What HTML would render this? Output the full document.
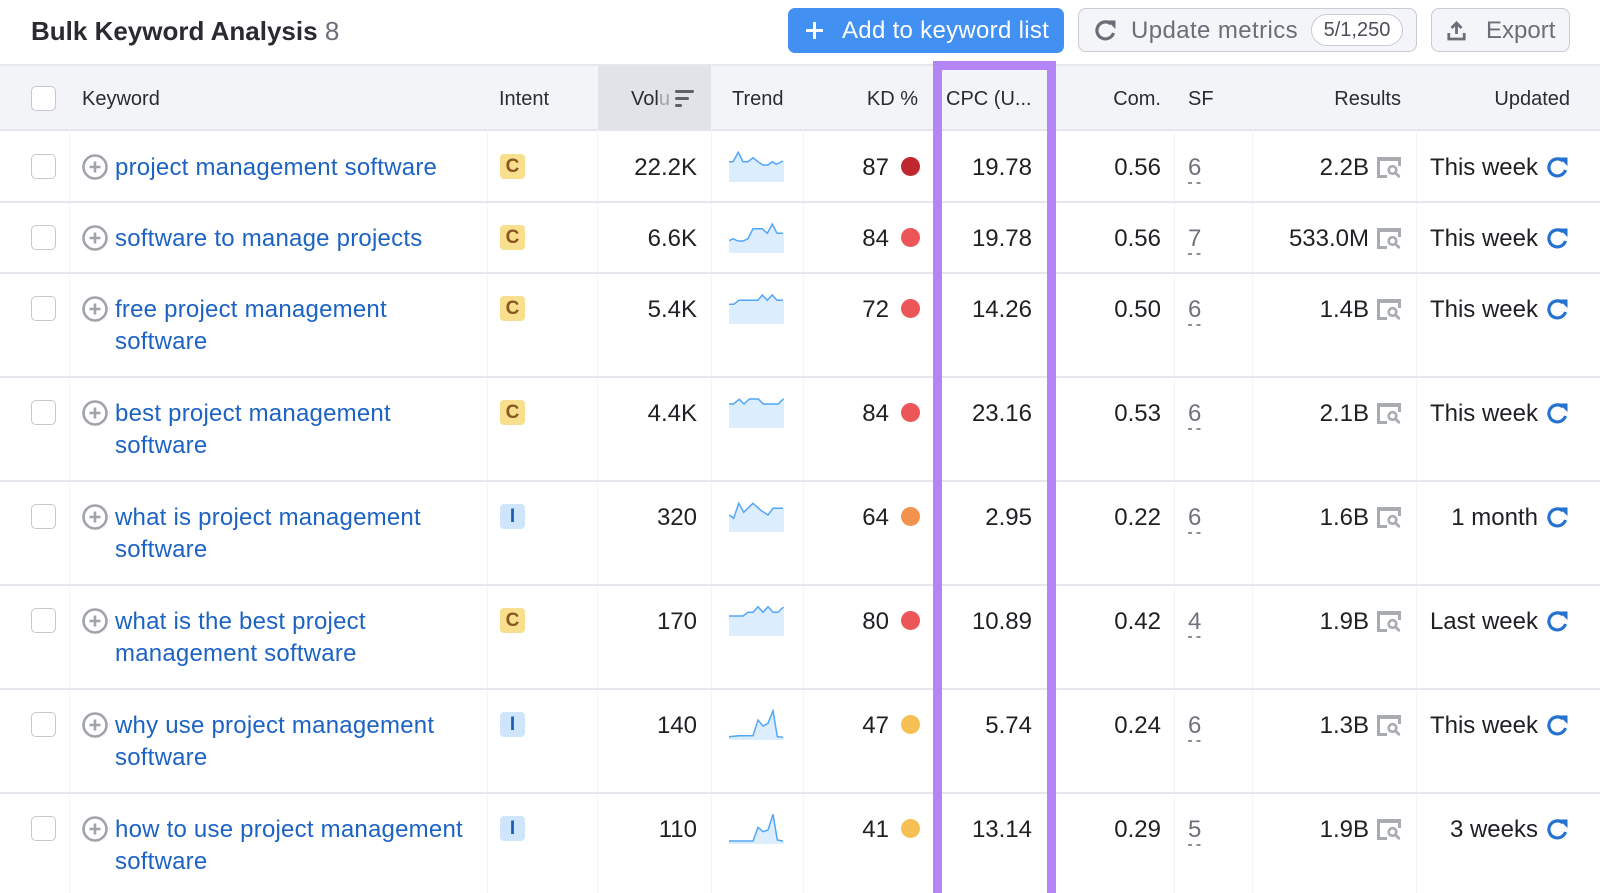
<!DOCTYPE html>
<html><head><meta charset="utf-8">
<style>
*{margin:0;padding:0;box-sizing:border-box}
html,body{width:1600px;height:893px;overflow:hidden;background:#fff}
#w{position:relative;width:1600px;height:893px;overflow:hidden;font-family:"Liberation Sans",Arial,sans-serif;color:#1f2024}
.a{position:absolute}
.t{position:absolute;font-size:24px;line-height:32px;white-space:nowrap;color:#1f2024}
.h{position:absolute;font-size:20px;line-height:32px;top:83px;white-space:nowrap;color:#2a2b33}
.row{position:absolute;left:0;width:1600px;height:0}
.ln{position:absolute;left:0;width:1600px;top:-1px;height:2px;background:#e6e7ed}
.cb{position:absolute;left:31px;width:25px;height:25px;border:1.5px solid #c5c8cf;border-radius:5px;background:#fff}
.kw{color:#1d63c4;left:115px;top:20.5px;letter-spacing:0.22px}
.bd{position:absolute;left:500px;top:23px;width:25px;height:25px;border-radius:4px;font-weight:bold;font-size:19px;line-height:25px;text-align:center}
.bc{background:#f8df8e;color:#8a561f}
.bi{background:#cfe5fb;color:#1d5cb6}
.dot{position:absolute;left:901px;top:26px;width:19px;height:19px;border-radius:50%}
.sf{left:1188px;top:20.5px;color:#6f727c}
.dash{position:absolute;left:1188px;top:51px;width:13px;height:1.5px;background:repeating-linear-gradient(90deg,#8d9099 0 4px,transparent 4px 8.5px)}
.vl{position:absolute;top:65px;height:828px;width:1px;background:#f4f4f7}
.btn{position:absolute;top:8px;height:44px;border-radius:8px}
.row .t:not(.kw):not(.sf){top:20.5px !important}
</style></head><body><div id="w">

<!-- title -->
<div class="a" style="left:31px;top:13px;font-size:26px;line-height:36px;white-space:nowrap;color:#2a2b30"><b>Bulk Keyword Analysis</b> <span style="color:#6c6e79">8</span></div>

<!-- buttons -->
<div class="btn" style="left:788px;width:276px;height:45px;background:#4190f2;border-radius:7px"></div>
<svg class="a" style="left:806px;top:22px" width="17" height="17" viewBox="0 0 17 17"><path d="M8.5 1v15M1 8.5h15" stroke="#fff" stroke-width="3" stroke-linecap="round"/></svg>
<div class="a" style="left:842px;top:15px;font-size:24px;line-height:32px;color:#fff;white-space:nowrap;letter-spacing:0.3px">Add to keyword list</div>

<div class="btn" style="left:1078px;width:339px;background:#f4f5f8;border:1.5px solid #c8cbd2"></div>
<svg class="a" style="left:1094px;top:19px" width="23" height="22" viewBox="0 0 23 22"><path d="M19.5 14A8.5 8.5 0 1 1 17 5" fill="none" stroke="#6b6e78" stroke-width="3.2"/><path d="M13 1.5h8.5V10z" fill="#6b6e78"/></svg>
<div class="a" style="left:1131px;top:15px;font-size:24px;line-height:32px;color:#6b6e78;white-space:nowrap;letter-spacing:0.4px">Update metrics</div>
<div class="a" style="left:1311px;top:14px;width:92px;height:32px;border:1.5px solid #c8cbd2;border-radius:16px;background:#fff;font-size:20px;line-height:30px;text-align:center;color:#4d4f57">5/1,250</div>

<div class="btn" style="left:1431px;width:139px;background:#f4f5f8;border:1.5px solid #c8cbd2"></div>
<svg class="a" style="left:1447px;top:20px" width="19" height="21" viewBox="0 0 19 21"><path d="M9.5 3v11M4.5 8l5-5 5 5" fill="none" stroke="#6b6e78" stroke-width="2.8"/><path d="M1.8 13v6h15.4v-6" fill="none" stroke="#6b6e78" stroke-width="2.8"/></svg>
<div class="a" style="left:1486px;top:15px;font-size:24px;line-height:32px;color:#6b6e78;white-space:nowrap">Export</div>

<!-- header -->
<div class="a" style="left:0;top:64px;width:1600px;height:2px;background:#e6e7ec"></div>
<div class="a" style="left:0;top:66px;width:1600px;height:64px;background:#f3f4f8"></div>
<div class="a" style="left:597px;top:66px;width:114px;height:64px;background:#e2e3e9"></div>
<div class="a" style="left:0;top:129px;width:1600px;height:2px;background:#e4e5eb"></div>

<div class="vl" style="left:69px"></div>
<div class="vl" style="left:487px"></div>
<div class="vl" style="left:597px"></div>
<div class="vl" style="left:711px"></div>
<div class="vl" style="left:803px"></div>
<div class="vl" style="left:1174px"></div>
<div class="vl" style="left:1252px"></div>
<div class="vl" style="left:1416px"></div>

<div class="cb" style="top:86px"></div>
<div class="h" style="left:82px">Keyword</div>
<div class="h" style="left:499px">Intent</div>
<div class="h" style="left:631px">Vol<span style="color:#a2a4ab">u</span></div>
<div class="a" style="left:675px;top:90px;width:19px;height:3px;border-radius:2px;background:#5f6169"></div>
<div class="a" style="left:675px;top:97px;width:14px;height:3px;border-radius:2px;background:#5f6169"></div>
<div class="a" style="left:675px;top:104px;width:7px;height:3px;border-radius:2px;background:#5f6169"></div>
<div class="h" style="left:732px">Trend</div>
<div class="h" style="right:682px">KD %</div>
<div class="h" style="left:946px">CPC (U...</div>
<div class="h" style="right:439px">Com.</div>
<div class="h" style="left:1188px">SF</div>
<div class="h" style="right:199px">Results</div>
<div class="h" style="right:30px">Updated</div>

<!-- ROW 1 -->
<div class="row" style="top:131px">
<div class="cb" style="top:23px"></div>
<svg class="a" style="left:82px;top:23px" width="26" height="26" viewBox="0 0 26 26"><circle cx="13" cy="13" r="11.5" fill="none" stroke="#a0a3ab" stroke-width="2.6"/><path d="M13 7.5v11M7.5 13h11" stroke="#a0a3ab" stroke-width="2.6"/></svg>
<div class="t kw">project management software</div>
<div class="bd bc">C</div>
<div class="t" style="right:903px">22.2K</div>
<svg class="a" style="left:729px;top:20px" width="55" height="31" viewBox="0 0 55 31"><polygon points="0,10.7 4,10.7 9.3,1.3 14,10.7 19,10.7 24,6.7 29,10.7 34,14 39,14 43.3,10.7 47.3,13.3 55,10 55,31 0,31" fill="#dcedfd"/><polyline points="0,10.7 4,10.7 9.3,1.3 14,10.7 19,10.7 24,6.7 29,10.7 34,14 39,14 43.3,10.7 47.3,13.3 54,10" fill="none" stroke="#52a6f8" stroke-width="1.5"/></svg>
<div class="t" style="right:711px">87</div>
<div class="dot" style="background:#c1272f"></div>
<div class="t" style="right:568px">19.78</div>
<div class="t" style="right:439px">0.56</div>
<div class="t sf">6</div><div class="dash"></div>
<div class="t" style="right:231px">2.2B</div>
<svg class="a" style="left:1377px;top:25.5px" width="24" height="21" viewBox="0 0 24 21"><path d="M1.5 20V2h21v7" fill="none" stroke="#a8acb1" stroke-width="3"/><rect x="0" y="0" width="24" height="4" fill="#a8acb1"/><path d="M0 19.5h10" stroke="#a8acb1" stroke-width="3"/><circle cx="15.5" cy="13" r="3.8" fill="none" stroke="#a8acb1" stroke-width="2.6"/><path d="M18.3 15.8l3.5 3.5" stroke="#a8acb1" stroke-width="2.8" stroke-linecap="round"/></svg>
<div class="t" style="right:62px">This week</div>
<svg class="a" style="left:1546px;top:25px" width="23" height="22" viewBox="0 0 23 22"><path d="M19.5 14A8.5 8.5 0 1 1 17 5" fill="none" stroke="#2571d1" stroke-width="3.2"/><path d="M13 1.5h8.5V10z" fill="#2571d1"/></svg>
</div>

<!-- ROW 2 -->
<div class="row" style="top:202px">
<div class="ln"></div>
<div class="cb" style="top:23px"></div>
<svg class="a" style="left:82px;top:23px" width="26" height="26" viewBox="0 0 26 26"><circle cx="13" cy="13" r="11.5" fill="none" stroke="#a0a3ab" stroke-width="2.6"/><path d="M13 7.5v11M7.5 13h11" stroke="#a0a3ab" stroke-width="2.6"/></svg>
<div class="t kw">software to manage projects</div>
<div class="bd bc">C</div>
<div class="t" style="right:903px">6.6K</div>
<svg class="a" style="left:729px;top:20px" width="55" height="31" viewBox="0 0 55 31"><polygon points="0,18.7 4,16.7 9,19 14,19 19,16.7 24,6.7 33.3,6.7 38.3,11.3 43.3,2 48,11.3 55,11.3 55,31 0,31" fill="#dcedfd"/><polyline points="0,18.7 4,16.7 9,19 14,19 19,16.7 24,6.7 33.3,6.7 38.3,11.3 43.3,2 48,11.3 54,11.3" fill="none" stroke="#52a6f8" stroke-width="1.5"/></svg>
<div class="t" style="right:711px">84</div>
<div class="dot" style="background:#ec5659"></div>
<div class="t" style="right:568px">19.78</div>
<div class="t" style="right:439px">0.56</div>
<div class="t sf">7</div><div class="dash"></div>
<div class="t" style="right:231px">533.0M</div>
<svg class="a" style="left:1377px;top:25.5px" width="24" height="21" viewBox="0 0 24 21"><path d="M1.5 20V2h21v7" fill="none" stroke="#a8acb1" stroke-width="3"/><rect x="0" y="0" width="24" height="4" fill="#a8acb1"/><path d="M0 19.5h10" stroke="#a8acb1" stroke-width="3"/><circle cx="15.5" cy="13" r="3.8" fill="none" stroke="#a8acb1" stroke-width="2.6"/><path d="M18.3 15.8l3.5 3.5" stroke="#a8acb1" stroke-width="2.8" stroke-linecap="round"/></svg>
<div class="t" style="right:62px">This week</div>
<svg class="a" style="left:1546px;top:25px" width="23" height="22" viewBox="0 0 23 22"><path d="M19.5 14A8.5 8.5 0 1 1 17 5" fill="none" stroke="#2571d1" stroke-width="3.2"/><path d="M13 1.5h8.5V10z" fill="#2571d1"/></svg>
</div>

<!-- ROW 3 -->
<div class="row" style="top:273px">
<div class="ln"></div>
<div class="cb" style="top:23px"></div>
<svg class="a" style="left:82px;top:23px" width="26" height="26" viewBox="0 0 26 26"><circle cx="13" cy="13" r="11.5" fill="none" stroke="#a0a3ab" stroke-width="2.6"/><path d="M13 7.5v11M7.5 13h11" stroke="#a0a3ab" stroke-width="2.6"/></svg>
<div class="t kw">free project management<br>software</div>
<div class="bd bc">C</div>
<div class="t" style="right:903px">5.4K</div>
<svg class="a" style="left:729px;top:20px" width="55" height="31" viewBox="0 0 55 31"><polygon points="0,11.3 4.7,11.3 10,7.3 29,7.3 33.3,2 38.3,7.3 43.3,2 48,7.3 55,7.3 55,31 0,31" fill="#dcedfd"/><polyline points="0,11.3 4.7,11.3 10,7.3 29,7.3 33.3,2 38.3,7.3 43.3,2 48,7.3 54,7.3" fill="none" stroke="#52a6f8" stroke-width="1.5"/></svg>
<div class="t" style="right:711px">72</div>
<div class="dot" style="background:#ec5659"></div>
<div class="t" style="right:568px">14.26</div>
<div class="t" style="right:439px">0.50</div>
<div class="t sf">6</div><div class="dash"></div>
<div class="t" style="right:231px">1.4B</div>
<svg class="a" style="left:1377px;top:25.5px" width="24" height="21" viewBox="0 0 24 21"><path d="M1.5 20V2h21v7" fill="none" stroke="#a8acb1" stroke-width="3"/><rect x="0" y="0" width="24" height="4" fill="#a8acb1"/><path d="M0 19.5h10" stroke="#a8acb1" stroke-width="3"/><circle cx="15.5" cy="13" r="3.8" fill="none" stroke="#a8acb1" stroke-width="2.6"/><path d="M18.3 15.8l3.5 3.5" stroke="#a8acb1" stroke-width="2.8" stroke-linecap="round"/></svg>
<div class="t" style="right:62px">This week</div>
<svg class="a" style="left:1546px;top:25px" width="23" height="22" viewBox="0 0 23 22"><path d="M19.5 14A8.5 8.5 0 1 1 17 5" fill="none" stroke="#2571d1" stroke-width="3.2"/><path d="M13 1.5h8.5V10z" fill="#2571d1"/></svg>
</div>

<!-- ROW 4 -->
<div class="row" style="top:377px">
<div class="ln"></div>
<div class="cb" style="top:23px"></div>
<svg class="a" style="left:82px;top:23px" width="26" height="26" viewBox="0 0 26 26"><circle cx="13" cy="13" r="11.5" fill="none" stroke="#a0a3ab" stroke-width="2.6"/><path d="M13 7.5v11M7.5 13h11" stroke="#a0a3ab" stroke-width="2.6"/></svg>
<div class="t kw">best project management<br>software</div>
<div class="bd bc">C</div>
<div class="t" style="right:903px">4.4K</div>
<svg class="a" style="left:729px;top:20px" width="55" height="31" viewBox="0 0 55 31"><polygon points="0,7 4.3,7 10.3,2.3 15,7 20.3,2 29.3,2 34.3,7 49.3,7 55,1.3 55,31 0,31" fill="#dcedfd"/><polyline points="0,7 4.3,7 10.3,2.3 15,7 20.3,2 29.3,2 34.3,7 49.3,7 54.5,1.8" fill="none" stroke="#52a6f8" stroke-width="1.5"/></svg>
<div class="t" style="right:711px">84</div>
<div class="dot" style="background:#ec5659"></div>
<div class="t" style="right:568px">23.16</div>
<div class="t" style="right:439px">0.53</div>
<div class="t sf">6</div><div class="dash"></div>
<div class="t" style="right:231px">2.1B</div>
<svg class="a" style="left:1377px;top:25.5px" width="24" height="21" viewBox="0 0 24 21"><path d="M1.5 20V2h21v7" fill="none" stroke="#a8acb1" stroke-width="3"/><rect x="0" y="0" width="24" height="4" fill="#a8acb1"/><path d="M0 19.5h10" stroke="#a8acb1" stroke-width="3"/><circle cx="15.5" cy="13" r="3.8" fill="none" stroke="#a8acb1" stroke-width="2.6"/><path d="M18.3 15.8l3.5 3.5" stroke="#a8acb1" stroke-width="2.8" stroke-linecap="round"/></svg>
<div class="t" style="right:62px">This week</div>
<svg class="a" style="left:1546px;top:25px" width="23" height="22" viewBox="0 0 23 22"><path d="M19.5 14A8.5 8.5 0 1 1 17 5" fill="none" stroke="#2571d1" stroke-width="3.2"/><path d="M13 1.5h8.5V10z" fill="#2571d1"/></svg>
</div>

<!-- ROW 5 -->
<div class="row" style="top:481px">
<div class="ln"></div>
<div class="cb" style="top:23px"></div>
<svg class="a" style="left:82px;top:23px" width="26" height="26" viewBox="0 0 26 26"><circle cx="13" cy="13" r="11.5" fill="none" stroke="#a0a3ab" stroke-width="2.6"/><path d="M13 7.5v11M7.5 13h11" stroke="#a0a3ab" stroke-width="2.6"/></svg>
<div class="t kw">what is project management<br>software</div>
<div class="bd bi">I</div>
<div class="t" style="right:903px">320</div>
<svg class="a" style="left:729px;top:20px" width="55" height="31" viewBox="0 0 55 31"><polygon points="0,14 4.7,17.3 9.7,2.3 14.7,11.3 24,2.3 32.3,9.7 39,14 44,7.3 55,7.3 55,31 0,31" fill="#dcedfd"/><polyline points="0,14 4.7,17.3 9.7,2.3 14.7,11.3 24,2.3 32.3,9.7 39,14 44,7.3 54,7.3" fill="none" stroke="#52a6f8" stroke-width="1.5"/></svg>
<div class="t" style="right:711px">64</div>
<div class="dot" style="background:#f1934f"></div>
<div class="t" style="right:568px">2.95</div>
<div class="t" style="right:439px">0.22</div>
<div class="t sf">6</div><div class="dash"></div>
<div class="t" style="right:231px">1.6B</div>
<svg class="a" style="left:1377px;top:25.5px" width="24" height="21" viewBox="0 0 24 21"><path d="M1.5 20V2h21v7" fill="none" stroke="#a8acb1" stroke-width="3"/><rect x="0" y="0" width="24" height="4" fill="#a8acb1"/><path d="M0 19.5h10" stroke="#a8acb1" stroke-width="3"/><circle cx="15.5" cy="13" r="3.8" fill="none" stroke="#a8acb1" stroke-width="2.6"/><path d="M18.3 15.8l3.5 3.5" stroke="#a8acb1" stroke-width="2.8" stroke-linecap="round"/></svg>
<div class="t" style="right:62px">1 month</div>
<svg class="a" style="left:1546px;top:25px" width="23" height="22" viewBox="0 0 23 22"><path d="M19.5 14A8.5 8.5 0 1 1 17 5" fill="none" stroke="#2571d1" stroke-width="3.2"/><path d="M13 1.5h8.5V10z" fill="#2571d1"/></svg>
</div>

<!-- ROW 6 -->
<div class="row" style="top:585px">
<div class="ln"></div>
<div class="cb" style="top:23px"></div>
<svg class="a" style="left:82px;top:23px" width="26" height="26" viewBox="0 0 26 26"><circle cx="13" cy="13" r="11.5" fill="none" stroke="#a0a3ab" stroke-width="2.6"/><path d="M13 7.5v11M7.5 13h11" stroke="#a0a3ab" stroke-width="2.6"/></svg>
<div class="t kw">what is the best project<br>management software</div>
<div class="bd bc">C</div>
<div class="t" style="right:903px">170</div>
<svg class="a" style="left:729px;top:20px" width="55" height="31" viewBox="0 0 55 31"><polygon points="0,11 14,11 19,7.3 24,7.3 29,1.7 34,7.3 39,1.7 44,7.3 49,7.3 55,1.7 55,31 0,31" fill="#dcedfd"/><polyline points="0,11 14,11 19,7.3 24,7.3 29,1.7 34,7.3 39,1.7 44,7.3 49,7.3 54.5,2" fill="none" stroke="#52a6f8" stroke-width="1.5"/></svg>
<div class="t" style="right:711px">80</div>
<div class="dot" style="background:#ec5659"></div>
<div class="t" style="right:568px">10.89</div>
<div class="t" style="right:439px">0.42</div>
<div class="t sf">4</div><div class="dash"></div>
<div class="t" style="right:231px">1.9B</div>
<svg class="a" style="left:1377px;top:25.5px" width="24" height="21" viewBox="0 0 24 21"><path d="M1.5 20V2h21v7" fill="none" stroke="#a8acb1" stroke-width="3"/><rect x="0" y="0" width="24" height="4" fill="#a8acb1"/><path d="M0 19.5h10" stroke="#a8acb1" stroke-width="3"/><circle cx="15.5" cy="13" r="3.8" fill="none" stroke="#a8acb1" stroke-width="2.6"/><path d="M18.3 15.8l3.5 3.5" stroke="#a8acb1" stroke-width="2.8" stroke-linecap="round"/></svg>
<div class="t" style="right:62px">Last week</div>
<svg class="a" style="left:1546px;top:25px" width="23" height="22" viewBox="0 0 23 22"><path d="M19.5 14A8.5 8.5 0 1 1 17 5" fill="none" stroke="#2571d1" stroke-width="3.2"/><path d="M13 1.5h8.5V10z" fill="#2571d1"/></svg>
</div>

<!-- ROW 7 -->
<div class="row" style="top:689px">
<div class="ln"></div>
<div class="cb" style="top:23px"></div>
<svg class="a" style="left:82px;top:23px" width="26" height="26" viewBox="0 0 26 26"><circle cx="13" cy="13" r="11.5" fill="none" stroke="#a0a3ab" stroke-width="2.6"/><path d="M13 7.5v11M7.5 13h11" stroke="#a0a3ab" stroke-width="2.6"/></svg>
<div class="t kw">why use project management<br>software</div>
<div class="bd bi">I</div>
<div class="t" style="right:903px">140</div>
<svg class="a" style="left:729px;top:20px" width="55" height="31" viewBox="0 0 55 31"><polygon points="0,27.7 10,26.7 24,26.7 29,11 34,17 39,14.3 44,1.7 48.3,27.7 55,28.3 55,31 0,31" fill="#dcedfd"/><polyline points="0,27.7 10,26.7 24,26.7 29,11 34,17 39,14.3 44,1.7 48.3,27.7 54,28.3" fill="none" stroke="#52a6f8" stroke-width="1.5"/></svg>
<div class="t" style="right:711px">47</div>
<div class="dot" style="background:#f5c154"></div>
<div class="t" style="right:568px">5.74</div>
<div class="t" style="right:439px">0.24</div>
<div class="t sf">6</div><div class="dash"></div>
<div class="t" style="right:231px">1.3B</div>
<svg class="a" style="left:1377px;top:25.5px" width="24" height="21" viewBox="0 0 24 21"><path d="M1.5 20V2h21v7" fill="none" stroke="#a8acb1" stroke-width="3"/><rect x="0" y="0" width="24" height="4" fill="#a8acb1"/><path d="M0 19.5h10" stroke="#a8acb1" stroke-width="3"/><circle cx="15.5" cy="13" r="3.8" fill="none" stroke="#a8acb1" stroke-width="2.6"/><path d="M18.3 15.8l3.5 3.5" stroke="#a8acb1" stroke-width="2.8" stroke-linecap="round"/></svg>
<div class="t" style="right:62px">This week</div>
<svg class="a" style="left:1546px;top:25px" width="23" height="22" viewBox="0 0 23 22"><path d="M19.5 14A8.5 8.5 0 1 1 17 5" fill="none" stroke="#2571d1" stroke-width="3.2"/><path d="M13 1.5h8.5V10z" fill="#2571d1"/></svg>
</div>

<!-- ROW 8 -->
<div class="row" style="top:793px">
<div class="ln"></div>
<div class="cb" style="top:23px"></div>
<svg class="a" style="left:82px;top:23px" width="26" height="26" viewBox="0 0 26 26"><circle cx="13" cy="13" r="11.5" fill="none" stroke="#a0a3ab" stroke-width="2.6"/><path d="M13 7.5v11M7.5 13h11" stroke="#a0a3ab" stroke-width="2.6"/></svg>
<div class="t kw">how to use project management<br>software</div>
<div class="bd bi">I</div>
<div class="t" style="right:903px">110</div>
<svg class="a" style="left:729px;top:20px" width="55" height="31" viewBox="0 0 55 31"><polygon points="0,28 24,28 29,14.3 34,18.7 39,17 44,1.3 48.3,27 55,28 55,31 0,31" fill="#dcedfd"/><polyline points="0,28 24,28 29,14.3 34,18.7 39,17 44,1.3 48.3,27 54,28" fill="none" stroke="#52a6f8" stroke-width="1.5"/></svg>
<div class="t" style="right:711px">41</div>
<div class="dot" style="background:#f5c154"></div>
<div class="t" style="right:568px">13.14</div>
<div class="t" style="right:439px">0.29</div>
<div class="t sf">5</div><div class="dash"></div>
<div class="t" style="right:231px">1.9B</div>
<svg class="a" style="left:1377px;top:25.5px" width="24" height="21" viewBox="0 0 24 21"><path d="M1.5 20V2h21v7" fill="none" stroke="#a8acb1" stroke-width="3"/><rect x="0" y="0" width="24" height="4" fill="#a8acb1"/><path d="M0 19.5h10" stroke="#a8acb1" stroke-width="3"/><circle cx="15.5" cy="13" r="3.8" fill="none" stroke="#a8acb1" stroke-width="2.6"/><path d="M18.3 15.8l3.5 3.5" stroke="#a8acb1" stroke-width="2.8" stroke-linecap="round"/></svg>
<div class="t" style="right:62px">3 weeks</div>
<svg class="a" style="left:1546px;top:25px" width="23" height="22" viewBox="0 0 23 22"><path d="M19.5 14A8.5 8.5 0 1 1 17 5" fill="none" stroke="#2571d1" stroke-width="3.2"/><path d="M13 1.5h8.5V10z" fill="#2571d1"/></svg>
</div>

<!-- purple highlight box -->
<div class="a" style="left:933px;top:61px;width:123px;height:850px;border:9.5px solid #b485f6;border-bottom:none"></div>

</div></body></html>
